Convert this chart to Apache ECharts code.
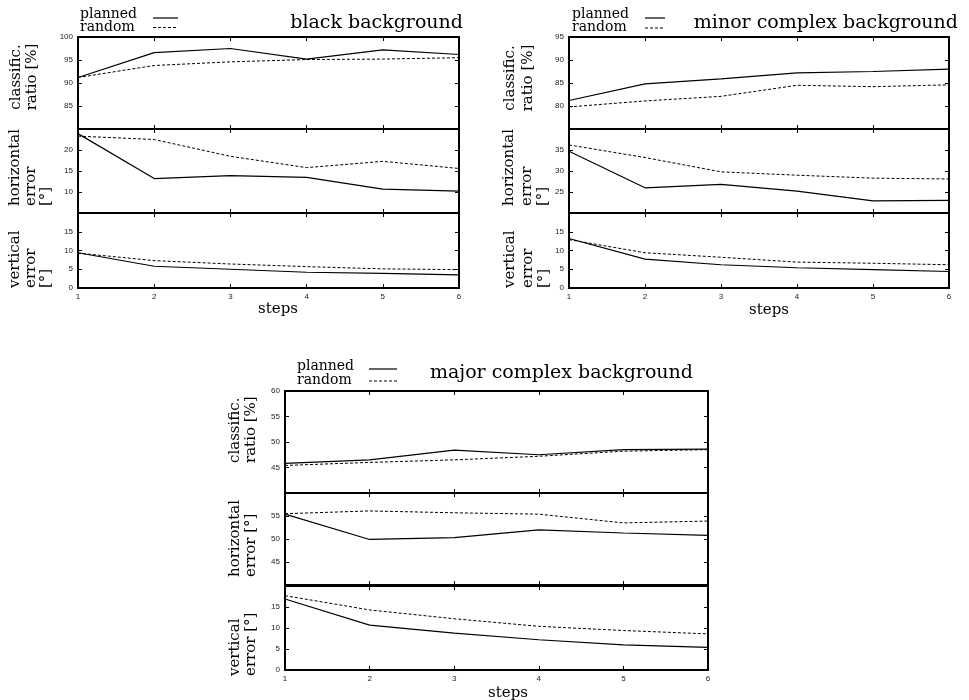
<!DOCTYPE html>
<html>
<head>
<meta charset="utf-8">
<script src="https://cdn.jsdelivr.net/npm/echarts@6/dist/echarts.min.js"></script>
<style>html,body{margin:0;padding:0;background:#fff;}#main{width:969px;height:700px;}</style>
</head>
<body>
<div id="main"></div>
<script>
// ---------- data ----------
const steps = [1, 2, 3, 4, 5, 6];
const seriesNames = ['planned', 'random'];
const panelTitles = ['black background', 'minor complex background', 'major complex background'];

const blackClassPlanned = [91.2, 96.6, 97.5, 95.2, 97.2, 96.2];
const blackClassRandom  = [91.2, 93.8, 94.6, 95.1, 95.2, 95.5];
const blackHorizPlanned = [23.9, 13.2, 13.9, 13.5, 10.7, 10.2];
const blackHorizRandom  = [23.3, 22.5, 18.5, 15.8, 17.3, 15.6];
const blackVertPlanned  = [9.4, 5.8, 5.0, 4.2, 3.9, 3.5];
const blackVertRandom   = [9.3, 7.3, 6.4, 5.7, 5.1, 4.9];

const minorClassPlanned = [81.2, 84.8, 85.9, 87.2, 87.5, 88.0];
const minorClassRandom  = [79.8, 81.1, 82.1, 84.5, 84.2, 84.6];
const minorHorizPlanned = [34.7, 26.0, 26.8, 25.2, 22.9, 23.0];
const minorHorizRandom  = [36.2, 33.2, 29.8, 29.0, 28.3, 28.1];
const minorVertPlanned  = [13.2, 7.7, 6.2, 5.4, 4.9, 4.4];
const minorVertRandom   = [12.9, 9.4, 8.2, 6.9, 6.6, 6.2];

const majorClassPlanned = [45.8, 46.5, 48.4, 47.5, 48.5, 48.6];
const majorClassRandom  = [45.4, 46.0, 46.5, 47.2, 48.2, 48.5];
const majorHorizPlanned = [55.4, 49.9, 50.3, 52.0, 51.3, 50.8];
const majorHorizRandom  = [55.5, 56.1, 55.7, 55.4, 53.5, 53.9];
const majorVertPlanned  = [16.9, 10.7, 8.8, 7.2, 6.0, 5.4];
const majorVertRandom   = [17.7, 14.3, 12.2, 10.4, 9.4, 8.6];

// axis ranges and tick labels
const blackClassRange = [80, 100]; const blackClassTicks = [85, 90, 95, 100];
const blackHorizRange = [5, 25];   const blackHorizTicks = [10, 15, 20];
const blackVertRange  = [0, 20];   const blackVertTicks  = [0, 5, 10, 15];
const minorClassRange = [75, 95];  const minorClassTicks = [80, 85, 90, 95];
const minorHorizRange = [20, 40];  const minorHorizTicks = [25, 30, 35];
const minorVertRange  = [0, 20];   const minorVertTicks  = [0, 5, 10, 15];
const majorClassRange = [40, 60];  const majorClassTicks = [45, 50, 55, 60];
const majorHorizRange = [40, 60];  const majorHorizTicks = [45, 50, 55];
const majorVertRange  = [0, 20];   const majorVertTicks  = [0, 5, 10, 15];
const xTickLabels = ['1', '2', '3', '4', '5', '6'];

const yLabelsAB = [['classific.', 'ratio [%]'], ['horizontal', 'error', '[°]'], ['vertical', 'error', '[°]']];
const yLabelsC  = [['classific.', 'ratio [%]'], ['horizontal', 'error [°]'], ['vertical', 'error [°]']];
const xLabelText = 'steps';

// ---------- layout (positions / styles) ----------
const SERIF = '"DejaVu Serif", serif';
const SANS = '"Liberation Sans", Arial, sans-serif';
const panels = [
  { left: 78, width: 381, rows: [[37, 92], [129, 84], [213, 75]],
    data: [[blackClassPlanned, blackClassRandom], [blackHorizPlanned, blackHorizRandom], [blackVertPlanned, blackVertRandom]],
    ranges: [blackClassRange, blackHorizRange, blackVertRange],
    ticks: [blackClassTicks, blackHorizTicks, blackVertTicks],
    ylabels: yLabelsAB,
    ylabelPos: [ {xs: [16, 32], y: 77, align: 'center'}, {xs: [15, 31, 46], y: 206, align: 'left'}, {xs: [15, 31, 46], y: 288, align: 'left'} ],
    legend: { textX: 80, y1: 14, y2: 27, lx1: 153, lx2: 178, ly1: 18, ly2: 27.5 },
    title: { x: 463, y: 23 }, steps: { x: 278, y: 309 } },
  { left: 569, width: 380, rows: [[37, 92], [129, 84], [213, 75]],
    data: [[minorClassPlanned, minorClassRandom], [minorHorizPlanned, minorHorizRandom], [minorVertPlanned, minorVertRandom]],
    ranges: [minorClassRange, minorHorizRange, minorVertRange],
    ticks: [minorClassTicks, minorHorizTicks, minorVertTicks],
    ylabels: yLabelsAB,
    ylabelPos: [ {xs: [510, 528], y: 78, align: 'center'}, {xs: [509, 527, 543], y: 206, align: 'left'}, {xs: [510, 528, 544], y: 288, align: 'left'} ],
    legend: { textX: 572, y1: 14, y2: 27, lx1: 645, lx2: 665, ly1: 18, ly2: 28 },
    title: { x: 958, y: 23 }, steps: { x: 769, y: 310 } },
  { left: 285, width: 423, rows: [[391, 102], [493, 92], [586, 84]],
    data: [[majorClassPlanned, majorClassRandom], [majorHorizPlanned, majorHorizRandom], [majorVertPlanned, majorVertRandom]],
    ranges: [majorClassRange, majorHorizRange, majorVertRange],
    ticks: [majorClassTicks, majorHorizTicks, majorVertTicks],
    ylabels: yLabelsC,
    ylabelPos: [ {xs: [235, 251], y: 463, align: 'left'}, {xs: [235, 251], y: 577, align: 'left'}, {xs: [235, 251], y: 676, align: 'left'} ],
    legend: { textX: 297, y1: 366, y2: 380, lx1: 369, lx2: 397, ly1: 369, ly2: 381 },
    title: { x: 693, y: 373 }, steps: { x: 508, y: 693 } }
];

const FRAME = { color: '#000', width: 2 };
const grids = [], xAxes = [], yAxes = [], series = [], graphics = [];

panels.forEach((p, pi) => {
  p.rows.forEach((row, ri) => {
    const g = grids.length;
    grids.push({ left: p.left, top: row[0], width: p.width, height: row[1], containLabel: false });
    const isBottom = ri === 2;
    const xBase = { gridIndex: g, type: 'value', min: 1, max: 6, interval: 1,
      axisLine: { show: true, onZero: false, lineStyle: FRAME },
      axisTick: { show: true, inside: true, length: 4, lineStyle: { color: '#000', width: 1 } },
      splitLine: { show: false } };
    xAxes.push(Object.assign({}, xBase, { position: 'bottom',
      axisLabel: { show: isBottom, margin: 5, fontSize: 8, fontFamily: SANS, color: '#222',
        formatter: v => xTickLabels[steps.indexOf(v)] || '' } }));
    xAxes.push(Object.assign({}, xBase, { position: 'top', axisLabel: { show: false } }));
    const tl = p.ticks[ri];
    const yBase = { gridIndex: g, type: 'value', min: p.ranges[ri][0], max: p.ranges[ri][1], interval: 5,
      axisLine: { show: true, onZero: false, lineStyle: FRAME },
      axisTick: { show: true, inside: true, length: 4, lineStyle: { color: '#000', width: 1 } },
      splitLine: { show: false } };
    yAxes.push(Object.assign({}, yBase, { position: 'left',
      axisLabel: { show: true, margin: 5, fontSize: 8, fontFamily: SANS, color: '#222',
        showMinLabel: true, showMaxLabel: true,
        formatter: v => tl.indexOf(v) >= 0 ? String(v) : '' } }));
    yAxes.push(Object.assign({}, yBase, { position: 'right', axisLabel: { show: false } }));
    p.data[ri].forEach((vals, si) => {
      series.push({ type: 'line', name: seriesNames[si], xAxisIndex: 2 * g, yAxisIndex: 2 * g,
        data: steps.map((s, k) => [s, vals[k]]), symbol: 'none', silent: true,
        lineStyle: { color: '#000', width: si === 0 ? 1.2 : 1, type: si === 0 ? 'solid' : [3, 2] } });
    });
    // y-axis title lines (rotated)
    const lp = p.ylabelPos[ri];
    p.ylabels[ri].forEach((txt, li) => {
      graphics.push({ type: 'text', x: lp.xs[li], y: lp.y, rotation: Math.PI / 2,
        style: { text: txt, fontSize: 15, fontFamily: SERIF, fill: '#000', align: lp.align, verticalAlign: 'middle' } });
    });
  });
  // legend
  const L = p.legend;
  graphics.push({ type: 'text', x: L.textX, y: L.y1, style: { text: seriesNames[0], fontSize: 14, fontFamily: SERIF, fill: '#000', align: 'left', verticalAlign: 'middle' } });
  graphics.push({ type: 'text', x: L.textX, y: L.y2, style: { text: seriesNames[1], fontSize: 14, fontFamily: SERIF, fill: '#000', align: 'left', verticalAlign: 'middle' } });
  graphics.push({ type: 'line', shape: { x1: L.lx1, y1: L.ly1, x2: L.lx2, y2: L.ly1 }, style: { stroke: '#000', lineWidth: 1.2 } });
  graphics.push({ type: 'line', shape: { x1: L.lx1, y1: L.ly2, x2: L.lx2, y2: L.ly2 }, style: { stroke: '#000', lineWidth: 1, lineDash: [3, 2] } });
  // title
  graphics.push({ type: 'text', x: p.title.x, y: p.title.y, style: { text: panelTitles[pi], fontSize: 19, fontFamily: SERIF, fill: '#000', align: 'right', verticalAlign: 'middle' } });
  // steps
  graphics.push({ type: 'text', x: p.steps.x, y: p.steps.y, style: { text: xLabelText, fontSize: 15, fontFamily: SERIF, fill: '#000', align: 'center', verticalAlign: 'middle' } });
});

const chart = echarts.init(document.getElementById('main'), null, { renderer: 'canvas' });
chart.setOption({
  animation: false,
  backgroundColor: '#fff',
  grid: grids, xAxis: xAxes, yAxis: yAxes, series: series,
  graphic: { elements: graphics }
});
</script>
</body>
</html>
